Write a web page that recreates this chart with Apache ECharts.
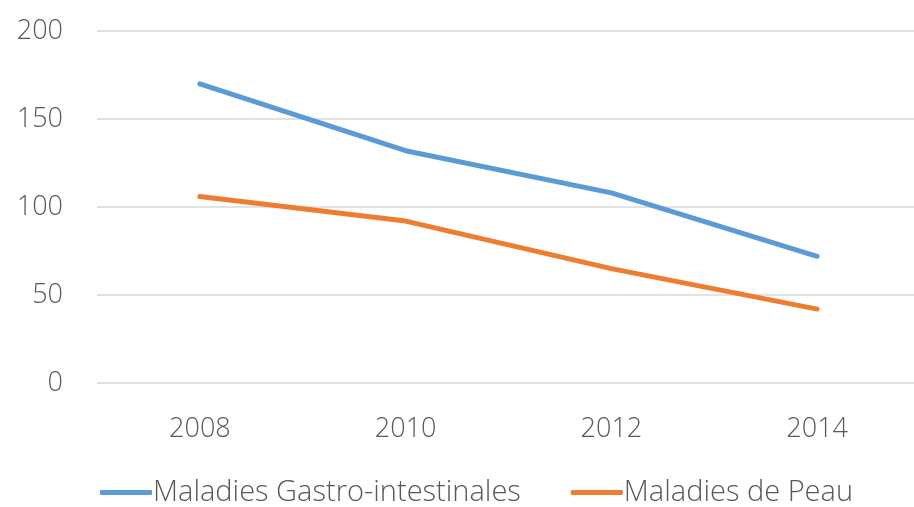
<!DOCTYPE html>
<html>
<head>
<meta charset="utf-8">
<script src="https://cdn.jsdelivr.net/npm/echarts@6/dist/echarts.min.js"></script>
<style>
  html, body { margin: 0; padding: 0; background: #fff; }
  #main { width: 914px; height: 507px; }
</style>
</head>
<body>
<div id="main"></div>
<script>
// données
var years = ["2008", "2010", "2012", "2014"];
var gastro = [170, 132, 108, 72];
var peau = [106, 92, 65, 42];
var seriesNames = ["Maladies Gastro-intestinales", "Maladies de Peau"];

var chartDom = document.getElementById("main");
var myChart = echarts.init(chartDom);
var textFont = "Open Sans";
var textColor = "#595959";

var option = {
  animation: false,
  grid: {
    left: 97,
    top: 31,
    width: 823,
    bottom: 124,
    outerBoundsMode: "none"
  },
  legend: {
    left: 95,
    bottom: -5,
    itemWidth: 52,
    itemHeight: 5,
    itemGap: 50,
    icon: "roundRect",
    textStyle: {
      fontFamily: textFont,
      fontWeight: 300,
      fontSize: 29,
      color: textColor,
      padding: [0, 0, 0, -4]
    },
    data: seriesNames
  },
  xAxis: {
    type: "category",
    data: years,
    boundaryGap: true,
    axisLine: { show: false },
    axisTick: { show: false },
    axisLabel: {
      margin: 33,
      fontFamily: textFont,
      fontWeight: 300,
      fontSize: 27,
      color: textColor
    }
  },
  yAxis: {
    type: "value",
    min: 0,
    max: 200,
    interval: 50,
    axisLine: { show: false },
    axisTick: { show: false },
    splitLine: { lineStyle: { color: "#d9d9d9", width: 1.5 } },
    axisLabel: {
      margin: 34,
      fontFamily: textFont,
      fontWeight: 300,
      fontSize: 27,
      color: textColor
    }
  },
  series: [
    {
      name: seriesNames[0],
      type: "line",
      data: gastro,
      symbol: "none",
      color: "#5b9bd5",
      lineStyle: { width: 5, cap: "round", join: "round" }
    },
    {
      name: seriesNames[1],
      type: "line",
      data: peau,
      symbol: "none",
      color: "#ed7d31",
      lineStyle: { width: 5, cap: "round", join: "round" }
    }
  ]
};

myChart.setOption(option);
</script>
</body>
</html>
